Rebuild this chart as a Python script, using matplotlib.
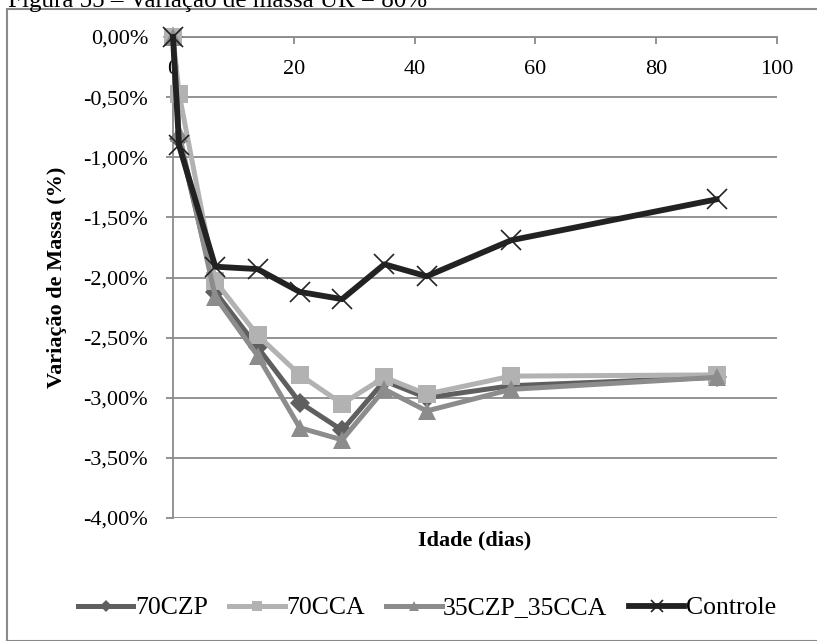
import matplotlib.pyplot as plt
from matplotlib.patches import Rectangle
from matplotlib.ticker import FuncFormatter

plt.rcParams['font.family'] = ['Liberation Serif', 'DejaVu Serif']

# Idade (dias) e variação de massa (%) de cada traço
dias = [0, 1, 7, 14, 21, 28, 35, 42, 56, 90]
czp70 = [0.00, -0.85, -2.12, -2.58, -3.04, -3.27, -2.86, -3.00, -2.90, -2.83]
cca70 = [0.00, -0.47, -2.03, -2.48, -2.81, -3.05, -2.83, -2.97, -2.82, -2.81]
czp35_cca35 = [0.00, -0.80, -2.16, -2.65, -3.25, -3.35, -2.93, -3.11, -2.93, -2.83]
controle = [0.00, -0.90, -1.91, -1.93, -2.12, -2.18, -1.89, -1.99, -1.69, -1.35]

titulo = "Figura 55 – Variação de massa UR = 80%"

W, H = 817, 641
fig = plt.figure(figsize=(W / 100, H / 100), dpi=100)

# moldura externa do gráfico
fig.patches.append(Rectangle((7 / W, 0), 1.0, 1 - 9 / H, transform=fig.transFigure,
                             fill=False, edgecolor="#8a8a8a", linewidth=1.5))
fig.text(8 / W, 1 - 7 / H, titulo, fontsize=18, va="baseline", ha="left")

ax = fig.add_axes([173 / W, 1 - 518 / H, (777 - 173) / W, (518 - 37) / H])

gray = "#8a8a8a"
series = [
    (czp70, "70CZP", "#5f5f5f", "D", 10, 3.6),
    (cca70, "70CCA", "#b2b2b2", "s", 13, 3.6),
    (czp35_cca35, "35CZP_35CCA", "#8c8c8c", "^", 13, 3.6),
    (controle, "Controle", "#222222", "x", 14, 4.2),
]
for vals, label, color, mk, ms, lw in series:
    kw = dict(markeredgewidth=1.2, markeredgecolor="#222222") if mk == "x" else dict(markeredgewidth=0)
    ax.plot(dias, vals, color=color, linewidth=lw, marker=mk, markersize=ms,
            markerfacecolor=color, label=label, clip_on=False, zorder=3,
            solid_joinstyle="round", **kw)

ax.set_xlim(0, 100)
ax.set_ylim(-4, 0)
ax.set_xticks(range(0, 101, 20))
ax.set_yticks([-4 + 0.5 * i for i in range(9)])
ax.yaxis.set_major_formatter(FuncFormatter(lambda v, p: f"{v:.2f}%".replace(".", ",")))

ax.xaxis.set_ticks_position("top")
ax.tick_params(axis="x", direction="in", length=5, width=1.3, color=gray,
               labelsize=16, pad=-30)
ax.tick_params(axis="y", direction="out", length=5, width=1.3, color=gray,
               labelsize=16, pad=13)

ax.grid(axis="y", color=gray, linewidth=1.3)
ax.set_axisbelow(True)
for side in ["right", "bottom"]:
    ax.spines[side].set_visible(False)
for side in ["left", "top"]:
    ax.spines[side].set_color(gray)
    ax.spines[side].set_linewidth(1.3)

ax.set_ylabel("Variação de Massa (%)", fontsize=16, fontweight="bold", labelpad=12)
fig.text(475 / W, 1 - 540 / H, "Idade (dias)", fontsize=16, fontweight="bold",
         ha="center", va="center")

fig.legend(loc="center", bbox_to_anchor=(427 / W, 1 - 608 / H), ncol=4, frameon=False,
           fontsize=18.5, handlelength=2.15, handletextpad=0.05, columnspacing=0.85,
           markerscale=0.6)

fig.savefig("out.png", dpi=100)
